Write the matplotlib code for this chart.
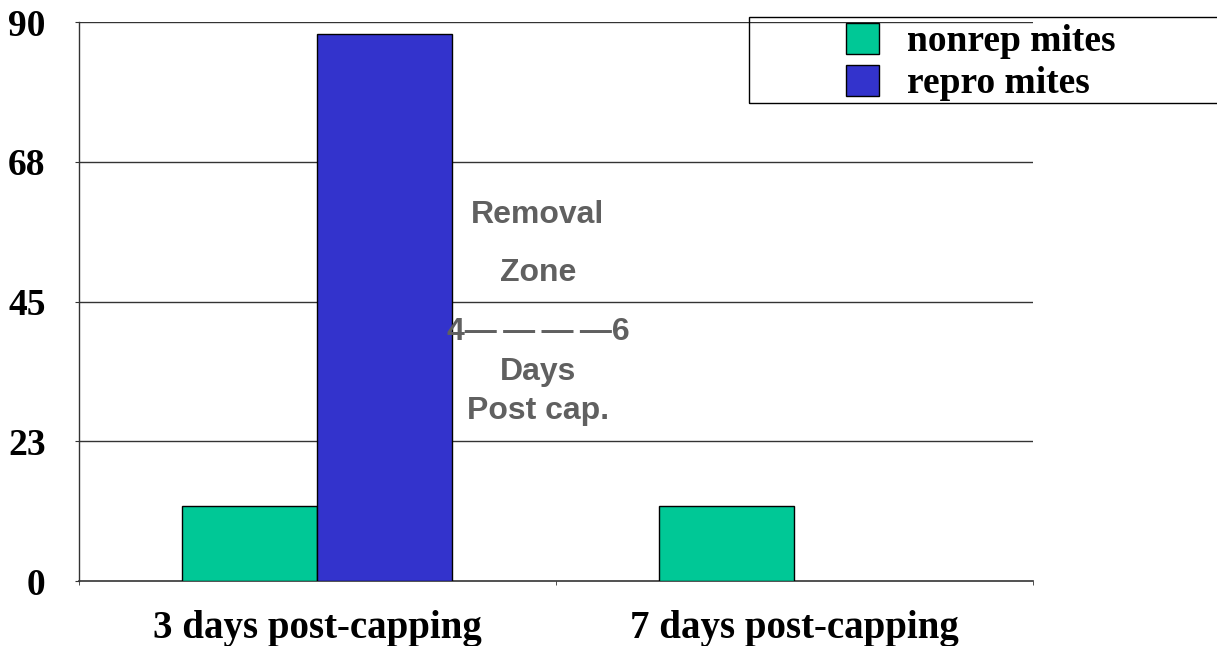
import numpy as np
import matplotlib
matplotlib.use('Agg')
import matplotlib.pyplot as plt
from matplotlib.patches import Rectangle

categories = ['3 days post-capping', '7 days post-capping']
nonrep_mites = [12, 12]
repro_mites = [88, 0]
ytick_values = [0, 22.5, 45, 67.5, 90]
ytick_labels = ['0', '23', '45', '68', '90']
zone_lines = ['Removal', 'Zone', '4\u2014\u2009\u2014\u2009\u2014\u2009\u20146', 'Days', 'Post cap.']
zone_y = [58.9, 49.6, 40.1, 33.6, 27.4]

green = '#00C896'
blue = '#3333CC'
serif = 'Liberation Serif'

fig = plt.figure(figsize=(12.17, 6.46), dpi=100)
ax = fig.add_axes([0.0649, 0.1006, 0.7839, 0.8653])

x = np.arange(len(categories))
w = 0.283
# zero-height bars get no outline
lw_nonrep = [1 if v > 0 else 0 for v in nonrep_mites]
lw_repro = [1 if v > 0 else 0 for v in repro_mites]
ax.bar(x - w / 2, nonrep_mites, w, color=green, edgecolor='black', linewidth=lw_nonrep, label='nonrep mites', zorder=3)
ax.bar(x + w / 2, repro_mites, w, color=blue, edgecolor='black', linewidth=lw_repro, label='repro mites', zorder=3)

ax.set_xlim(-0.5, 1.5)
ax.set_ylim(0, 90)

# gridlines (the one at 90 acts as the top border)
for yv in ytick_values[1:]:
    ax.axhline(yv, color='#333333', linewidth=1, zorder=1)

for side in ['top', 'right']:
    ax.spines[side].set_visible(False)
ax.spines['left'].set_color('#333333')
ax.spines['bottom'].set_color('#333333')
ax.spines['left'].set_linewidth(1)
ax.spines['bottom'].set_linewidth(1.2)

ax.set_yticks(ytick_values)
ax.set_yticklabels(ytick_labels, fontsize=27, fontweight='bold', family=serif)
ax.tick_params(axis='y', length=3, pad=21, color='#333333')

ax.set_xticks(x)
ax.set_xticklabels(categories, fontsize=28, fontweight='bold', family=serif)
ax.set_xticks([-0.5, 0.5, 1.5], minor=True)
ax.tick_params(axis='x', which='major', length=0, pad=21)
ax.tick_params(axis='x', which='minor', length=3, color='#333333')

for txt, yv in zip(zone_lines, zone_y):
    ax.text(0.462, yv, txt, ha='center', va='center', fontsize=23, fontweight='bold',
            family=['Liberation Sans', 'DejaVu Sans'], color='#606060', zorder=4)

# legend box, running off the right edge
fig.patches.append(Rectangle((749 / 1217, 1 - 103 / 646), 0.5, 86 / 646, transform=fig.transFigure,
                             fill=False, edgecolor='black', linewidth=1))
fig.legend(loc='upper left', bbox_to_anchor=(846 / 1217, 1 - 23 / 646), frameon=False,
           prop={'family': serif, 'weight': 'bold', 'size': 27},
           handlelength=0.88, handleheight=0.88, handletextpad=0.75,
           labelspacing=0.15, borderpad=0, borderaxespad=0)

fig.savefig('out.png', dpi=100)
